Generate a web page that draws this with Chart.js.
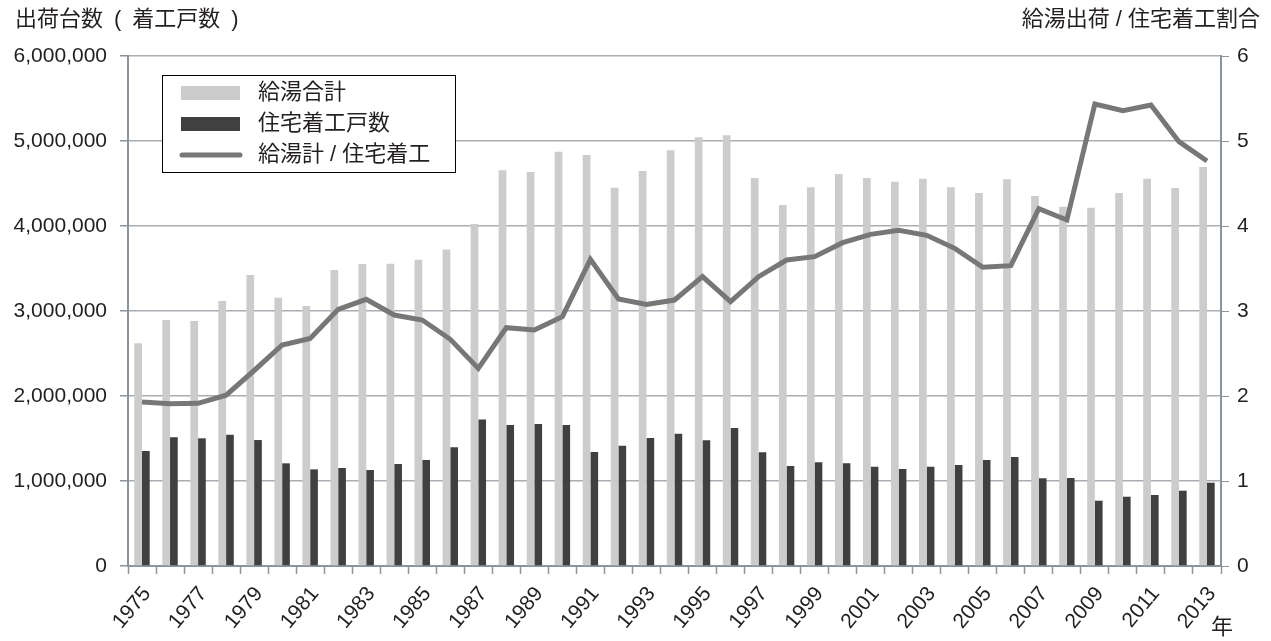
<!DOCTYPE html>
<html lang="ja">
<head>
<meta charset="utf-8">
<title>給湯出荷台数と住宅着工戸数</title>
<script src="https://cdn.jsdelivr.net/npm/chart.js@4.4.1/dist/chart.umd.min.js"></script>
<style>
  html, body { margin: 0; padding: 0; background: #ffffff; }
  #wrap { width: 1271px; height: 641px; }
</style>
</head>
<body>
<div id="wrap"><canvas id="grafico" width="1271" height="641"></canvas></div>
<script>
// 年（横軸）
const years = [];
for (let y = 1975; y <= 2013; y++) years.push(String(y));

// 給湯合計（台）
const kyutoGokei = [
  2620000, 2894000, 2882000, 3118000, 3424000, 3157000, 3059000, 3482000, 3553000, 3557000,
  3604000, 3725000, 4024000, 4655000, 4635000, 4874000, 4835000, 4451000, 4647000, 4890000,
  5043000, 5067000, 4565000, 4247000, 4455000, 4612000, 4565000, 4522000, 4557000, 4455000,
  4388000, 4549000, 4353000, 4227000, 4215000, 4388000, 4557000, 4447000, 4694000
];

// 住宅着工戸数
const chakkoKosu = [
  1353000, 1514000, 1502000, 1545000, 1482000, 1208000, 1137000, 1153000, 1129000, 1200000,
  1247000, 1396000, 1725000, 1659000, 1671000, 1659000, 1341000, 1416000, 1506000, 1557000,
  1478000, 1624000, 1337000, 1176000, 1220000, 1208000, 1169000, 1141000, 1169000, 1188000,
  1247000, 1282000, 1031000, 1035000, 768000, 815000, 835000, 886000, 980000
];

// 給湯計 / 住宅着工
const wariai = [
  1.93, 1.91, 1.914, 2.01, 2.3, 2.6, 2.678, 3.02, 3.137, 2.953,
  2.894, 2.667, 2.325, 2.804, 2.776, 2.933, 3.608, 3.141, 3.078, 3.129,
  3.404, 3.11, 3.404, 3.6, 3.639, 3.804, 3.902, 3.95, 3.89, 3.737,
  3.514, 3.533, 4.204, 4.071, 5.435, 5.357, 5.424, 4.992, 4.765
];

const ticksIzq = [0, 1000000, 2000000, 3000000, 4000000, 5000000, 6000000];
const ticksDer = [0, 1, 2, 3, 4, 5, 6];

const fuente = '"Liberation Sans", "Noto Sans CJK JP", sans-serif';
const colorTexto = '#231f20';
const colorEje = '#8c939b';
const colorGrid = '#a8aeb4';

// Títulos de ejes, "年" y leyenda dibujados sobre el canvas
const extras = {
  id: 'extras',
  afterDraw(chart) {
    const ctx = chart.ctx;
    ctx.save();
    ctx.fillStyle = colorTexto;
    ctx.font = '22px ' + fuente;
    ctx.textBaseline = 'middle';
    ctx.textAlign = 'left';
    ctx.fillText('出荷台数\u2002(\u2002着工戸数\u2002)', 15, 20);
    ctx.textAlign = 'right';
    ctx.fillText('給湯出荷 / 住宅着工割合', 1260, 20);
    ctx.textAlign = 'center';
    ctx.fillText('年', 1222, 628);

    // leyenda
    const ds = chart.data.datasets;
    ctx.fillStyle = '#ffffff';
    ctx.fillRect(162, 75, 293, 97);
    ctx.strokeStyle = '#000000';
    ctx.lineWidth = 1;
    ctx.strokeRect(162.5, 75.5, 293, 97);
    const filas = [93, 124, 155];
    ds.forEach((d, i) => {
      const y = filas[i];
      if (d.type === 'line') {
        ctx.strokeStyle = d.borderColor;
        ctx.lineWidth = 5;
        ctx.lineCap = 'round';
        ctx.beginPath();
        ctx.moveTo(182, y);
        ctx.lineTo(240, y);
        ctx.stroke();
      } else {
        ctx.fillStyle = d.backgroundColor;
        ctx.fillRect(181, y - 7, 59, 14);
      }
      ctx.fillStyle = colorTexto;
      ctx.textAlign = 'left';
      ctx.fillText(d.label, 258, y);
    });
    ctx.restore();
  }
};

new Chart(document.getElementById('grafico'), {
  type: 'bar',
  data: {
    labels: years,
    datasets: [
      {
        label: '給湯合計',
        data: kyutoGokei,
        backgroundColor: '#cccccc',
        yAxisID: 'y',
        order: 1,
        categoryPercentage: 0.55,
        barPercentage: 1.0
      },
      {
        label: '住宅着工戸数',
        data: chakkoKosu,
        backgroundColor: '#404040',
        yAxisID: 'y',
        order: 1,
        categoryPercentage: 0.55,
        barPercentage: 1.0
      },
      {
        type: 'line',
        label: '給湯計 / 住宅着工',
        data: wariai,
        borderColor: '#777777',
        borderWidth: 5,
        pointRadius: 0,
        tension: 0,
        fill: false,
        yAxisID: 'y1',
        order: 0
      }
    ]
  },
  options: {
    responsive: false,
    animation: false,
    layout: { padding: { top: 56, left: 0, right: 0, bottom: 0 } },
    plugins: {
      legend: { display: false },
      tooltip: { enabled: false },
      title: { display: false }
    },
    scales: {
      x: {
        offset: true,
        grid: {
          offset: true,
          drawOnChartArea: false,
          drawTicks: true,
          tickLength: 8,
          tickColor: colorEje,
          tickWidth: 1.5
        },
        border: { color: colorEje, width: 2 },
        ticks: {
          autoSkip: false,
          minRotation: 50,
          maxRotation: 50,
          padding: 8,
          labelOffset: 5,
          color: colorTexto,
          font: { family: fuente, size: 21 },
          callback: function (value, index) {
            return index % 2 === 0 ? this.getLabelForValue(value) : '';
          }
        },
        afterFit(scale) { scale.height = 75; }
      },
      y: {
        position: 'left',
        min: 0,
        max: 6000000,
        afterBuildTicks(scale) { scale.ticks = ticksIzq.map(v => ({ value: v })); },
        grid: {
          color: colorGrid,
          lineWidth: 1.5,
          drawTicks: true,
          tickLength: 8,
          tickColor: colorEje
        },
        border: { color: colorEje, width: 2 },
        ticks: {
          padding: 13,
          color: colorTexto,
          font: { family: fuente, size: 21 },
          callback: v => v.toLocaleString('en-US')
        },
        afterFit(scale) { scale.width = 128; }
      },
      y1: {
        position: 'right',
        min: 0,
        max: 6,
        afterBuildTicks(scale) { scale.ticks = ticksDer.map(v => ({ value: v })); },
        grid: {
          drawOnChartArea: false,
          drawTicks: true,
          tickLength: 8,
          tickColor: colorEje
        },
        border: { color: colorEje, width: 2 },
        ticks: {
          padding: 8,
          color: colorTexto,
          font: { family: fuente, size: 21 }
        },
        afterFit(scale) { scale.width = 50; }
      }
    }
  },
  plugins: [extras]
});
</script>
</body>
</html>
